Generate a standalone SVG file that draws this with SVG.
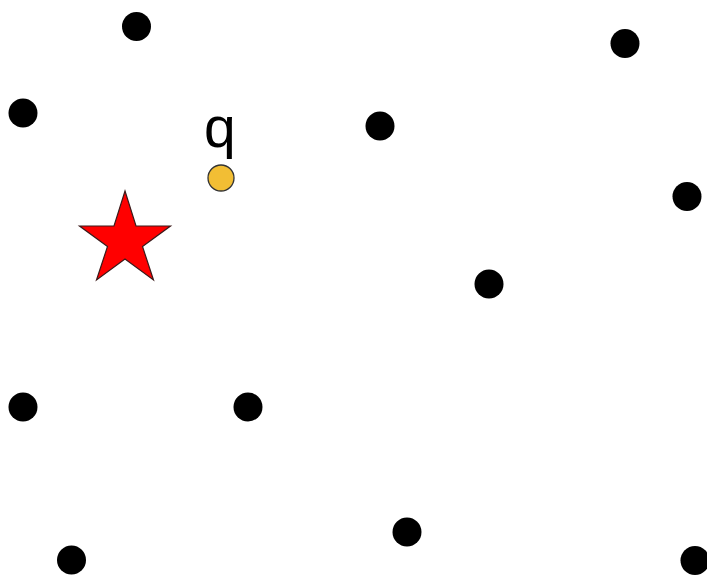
<svg xmlns="http://www.w3.org/2000/svg" width="707" height="576" viewBox="0 0 707 576">
<style>
.pt{fill:#000}
.lbl{font-family:"Liberation Sans",Arial,sans-serif;font-size:57px;fill:#000}
</style>
<rect width="707" height="576" fill="#fff"/>
<g id="points">
<circle class="pt" cx="136.5" cy="26.5" r="14.5"/>
<circle class="pt" cx="23" cy="113" r="14.5"/>
<circle class="pt" cx="625" cy="43.5" r="14.5"/>
<circle class="pt" cx="380" cy="126" r="14.5"/>
<circle class="pt" cx="687" cy="196.5" r="14.5"/>
<circle class="pt" cx="489" cy="284" r="14.5"/>
<circle class="pt" cx="23" cy="407" r="14.5"/>
<circle class="pt" cx="248" cy="407" r="14.5"/>
<circle class="pt" cx="407" cy="532" r="14.5"/>
<circle class="pt" cx="71.5" cy="560" r="14.5"/>
<circle class="pt" cx="695" cy="560.5" r="14.5"/>
</g>
<g id="star">
<polygon fill="#ff0000" stroke="#3a1a1a" stroke-width="1.2" stroke-linejoin="miter" points="125,191 136.0,226.0 170.5,226.0 142.5,246.5 153.5,280.0 125,259.0 96.5,280.0 107.5,246.5 79.5,226.0 114.0,226.0"/>
</g>
<g id="q">
<circle cx="221" cy="178" r="13" fill="#f2be34" stroke="#333" stroke-width="1.3"/>
<text class="lbl" x="204" y="147">q</text>
</g>
</svg>
